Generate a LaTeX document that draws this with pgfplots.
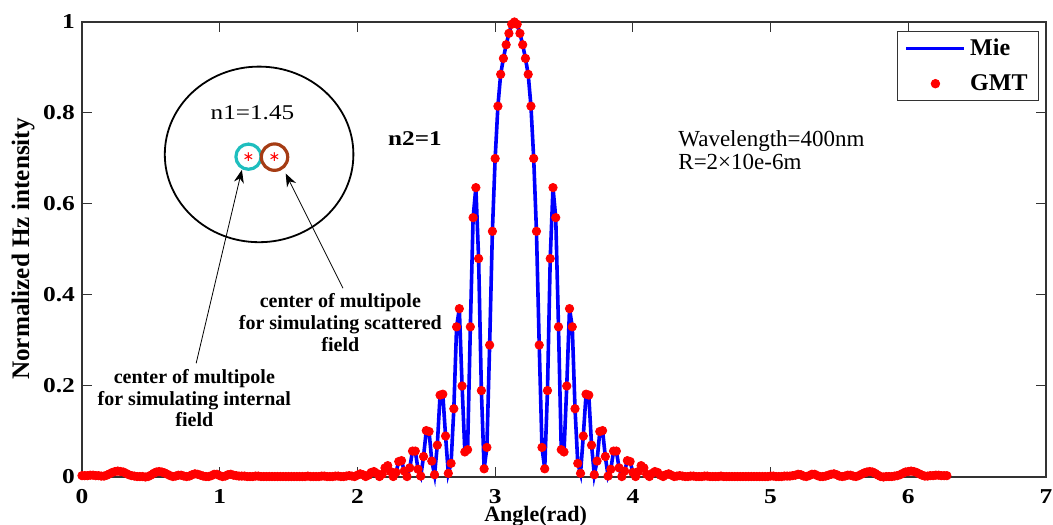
\documentclass[border=0pt]{standalone}
\usepackage{pgfplots}
\pgfplotsset{compat=1.18}
\usepackage{pgfplotstable}
\usetikzlibrary{arrows.meta}
\usepackage{fontspec}
\setmainfont{Liberation Serif}
\newfontfamily\widefont{Liberation Serif}[FakeStretch=1.2]
\newfontfamily\symfont{DejaVu Sans}
\definecolor{miblue}{RGB}{0,0,255}
\definecolor{gmtred}{RGB}{255,0,0}
\definecolor{ringcyan}{RGB}{30,190,190}
\definecolor{ringbrown}{RGB}{165,60,20}
\pgfplotsset{
  mieleg/.style={legend image code/.code={\draw[##1] (0pt,0pt) -- (29pt,0pt);}},
  gmtleg/.style={legend image code/.code={\path[draw=none,fill=none] (0pt,0pt) -- (29pt,0pt); \draw[##1, only marks] plot coordinates {(14.5pt,0pt)};}},
}

\pgfplotstableread{
x y
0.00 0.003
0.02 0.003
0.04 0.003
0.06 0.004
0.08 0.004
0.10 0.003
0.12 0.003
0.14 0.002
0.16 0.002
0.18 0.004
0.20 0.007
0.22 0.010
0.24 0.012
0.26 0.013
0.28 0.012
0.30 0.011
0.32 0.008
0.34 0.005
0.36 0.003
0.38 0.002
0.40 0.001
0.42 0.001
0.44 0.001
0.46 0.000
0.48 0.001
0.50 0.004
0.52 0.008
0.54 0.011
0.56 0.012
0.58 0.011
0.60 0.009
0.62 0.006
0.64 0.003
0.66 0.001
0.68 0.002
0.70 0.004
0.72 0.004
0.74 0.002
0.76 0.001
0.78 0.002
0.80 0.005
0.82 0.007
0.84 0.006
0.86 0.004
0.88 0.002
0.90 0.001
0.92 0.001
0.94 0.003
0.96 0.006
0.98 0.006
1.00 0.003
1.02 0.001
1.04 0.002
1.06 0.005
1.08 0.006
1.10 0.004
1.12 0.003
1.14 0.002
1.16 0.002
1.18 0.002
1.20 0.001
1.22 0.001
1.24 0.001
1.26 0.002
1.28 0.002
1.30 0.001
1.32 0.001
1.34 0.001
1.36 0.001
1.38 0.001
1.40 0.001
1.42 0.001
1.44 0.001
1.46 0.001
1.48 0.001
1.50 0.001
1.52 0.001
1.54 0.001
1.56 0.001
1.58 0.001
1.60 0.001
1.62 0.001
1.64 0.002
1.66 0.001
1.68 0.001
1.70 0.001
1.72 0.001
1.74 0.002
1.76 0.002
1.78 0.001
1.80 0.001
1.82 0.001
1.84 0.002
1.86 0.002
1.88 0.001
1.90 0.001
1.92 0.002
1.94 0.003
1.96 0.002
1.98 0.001
2.00 0.004
2.02 0.007
2.04 0.005
2.06 0.001
2.08 0.004
2.10 0.010
2.12 0.012
2.14 0.008
2.16 0.001
2.18 0.006
2.20 0.020
2.22 0.025
2.24 0.012
2.26 0.001
2.28 0.010
2.30 0.034
2.32 0.036
2.34 0.013
2.36 0.001
2.38 0.020
2.40 0.057
2.42 0.057
2.44 0.017
2.46 0.002
2.48 0.045
2.50 0.102
2.52 0.100
2.54 0.035
2.56 0.005
2.58 0.070
2.60 0.180
2.62 0.182
2.64 0.090
2.66 0.008
2.68 0.030
2.70 0.150
2.72 0.330
2.74 0.370
2.76 0.200
2.78 0.055
2.80 0.060
2.82 0.330
2.84 0.570
2.86 0.636
2.88 0.480
2.90 0.190
2.92 0.018
2.94 0.065
2.96 0.290
2.98 0.540
3.00 0.700
3.02 0.815
3.04 0.885
3.06 0.920
3.08 0.950
3.10 0.975
3.12 0.995
3.14 1.000
3.16 0.995
3.18 0.975
3.20 0.950
3.22 0.920
3.24 0.885
3.26 0.815
3.28 0.700
3.30 0.540
3.32 0.290
3.34 0.065
3.36 0.018
3.38 0.190
3.40 0.480
3.42 0.636
3.44 0.570
3.46 0.330
3.48 0.060
3.50 0.055
3.52 0.200
3.54 0.370
3.56 0.330
3.58 0.150
3.60 0.030
3.62 0.008
3.64 0.090
3.66 0.182
3.68 0.180
3.70 0.070
3.72 0.005
3.74 0.035
3.76 0.100
3.78 0.102
3.80 0.045
3.82 0.002
3.84 0.017
3.86 0.057
3.88 0.057
3.90 0.020
3.92 0.001
3.94 0.013
3.96 0.036
3.98 0.034
4.00 0.010
4.02 0.001
4.04 0.012
4.06 0.025
4.08 0.020
4.10 0.006
4.12 0.001
4.14 0.008
4.16 0.012
4.18 0.010
4.20 0.004
4.22 0.001
4.24 0.005
4.26 0.007
4.28 0.004
4.30 0.001
4.32 0.002
4.34 0.003
4.36 0.002
4.38 0.001
4.40 0.001
4.42 0.002
4.44 0.002
4.46 0.001
4.48 0.001
4.50 0.001
4.52 0.002
4.54 0.002
4.56 0.001
4.58 0.001
4.60 0.001
4.62 0.001
4.64 0.002
4.66 0.001
4.68 0.001
4.70 0.001
4.72 0.001
4.74 0.001
4.76 0.001
4.78 0.001
4.80 0.001
4.82 0.001
4.84 0.001
4.86 0.001
4.88 0.001
4.90 0.001
4.92 0.001
4.94 0.001
4.96 0.001
4.98 0.001
5.00 0.002
5.02 0.002
5.04 0.001
5.06 0.001
5.08 0.001
5.10 0.002
5.12 0.002
5.14 0.002
5.16 0.003
5.18 0.004
5.20 0.006
5.22 0.005
5.24 0.002
5.26 0.001
5.28 0.003
5.30 0.006
5.32 0.006
5.34 0.003
5.36 0.001
5.38 0.001
5.40 0.002
5.42 0.004
5.44 0.006
5.46 0.007
5.48 0.005
5.50 0.002
5.52 0.001
5.54 0.002
5.56 0.004
5.58 0.004
5.60 0.002
5.62 0.001
5.64 0.003
5.66 0.006
5.68 0.009
5.70 0.011
5.72 0.012
5.74 0.011
5.76 0.008
5.78 0.004
5.80 0.001
5.82 0.000
5.84 0.001
5.86 0.001
5.88 0.001
5.90 0.002
5.92 0.003
5.94 0.005
5.96 0.008
5.98 0.011
6.00 0.012
6.02 0.013
6.04 0.012
6.06 0.010
6.08 0.007
6.10 0.004
6.12 0.002
6.14 0.002
6.16 0.003
6.18 0.003
6.20 0.004
6.22 0.004
6.24 0.003
6.26 0.003
6.28 0.003
}\datatable

\begin{document}
\begin{tikzpicture}
\begin{axis}[
  name=main,
  scale only axis, width=482pt, height=227.5pt,
  xmin=0, xmax=7, ymin=0, ymax=1,
  clip=false,
  xtick={0,1,2,3,4,5,6,7},
  xticklabels={0,1,2,3,4,5,6,7},
  ytick={0,0.2,0.4,0.6,0.8,1},
  yticklabels={0,0.2,0.4,0.6,0.8,1},
  /pgf/number format/assume math mode=true,
  tick align=inside,
  major tick length=5pt,
  axis line style={black!80, line width=0.6pt},
  every tick/.style={black!80, line width=0.5pt},
  ticklabel style={font=\widefont\bfseries\fontsize{10.6}{12}\selectfont},
  xticklabel style={anchor=base, yshift=-13pt, text depth=0pt, inner ysep=0pt},
  yticklabel style={anchor=east},
  xlabel={Angle(rad)},
  xlabel style={font=\bfseries\fontsize{11}{13}\selectfont, at={(axis description cs:0.4706,0)}, anchor=base, yshift=-22.4pt, text height=0.7em, text depth=0.15em, inner ysep=0pt},
  ylabel={Normalized Hz intensity},
  ylabel style={font=\bfseries\fontsize{12.6}{14}\selectfont, at={(axis description cs:-0.0612,0.501)}, anchor=center, rotate=0},
  legend style={at={(0.9928,0.980)}, anchor=north east, draw=black!80, line width=0.5pt,
    font=\bfseries\fontsize{12}{14}\selectfont, inner xsep=3.5pt, inner ysep=1.5pt, row sep=4pt,
    cells={anchor=west}},
]
\addplot[miblue, line width=1.8pt, line join=miter, mieleg] table[x=x,y=y] {\datatable};
\addlegendentry{Mie}
\addplot[only marks, mark=*, mark size=2.1pt, color=gmtred, fill=gmtred, gmtleg] table[x=x,y=y] {\datatable};
\addlegendentry{GMT}

% inset sketch
\draw[line width=0.9pt, black] (axis cs:1.286,0.709) ellipse [x radius=47.15pt, y radius=43.9pt];
\draw[line width=1.6pt, ringcyan] (axis cs:1.209,0.704) circle [radius=6.3pt];
\draw[line width=1.6pt, ringbrown] (axis cs:1.398,0.703) circle [radius=6.6pt];
\node[text=gmtred, inner sep=0pt, font=\symfont\fontsize{7}{7}\selectfont] at (axis cs:1.209,0.704) {∗};
\node[text=gmtred, inner sep=0pt, font=\symfont\fontsize{7}{7}\selectfont] at (axis cs:1.398,0.703) {∗};
\node[font=\widefont\fontsize{10.5}{12}\selectfont, inner sep=0pt] at (axis cs:1.238,0.801) {n1=1.45};
\node[font=\widefont\bfseries\fontsize{10.5}{12}\selectfont, inner sep=0pt] at (axis cs:2.418,0.744) {n2=1};
\node[font=\fontsize{11.5}{13}\selectfont, anchor=base west, inner sep=0pt] at (axis cs:4.328,0.726) {Wavelength=400nm};
\node[font=\fontsize{11.5}{13}\selectfont, anchor=base west, inner sep=0pt] at (axis cs:4.328,0.675) {R=2×10e-6m};
\node[font=\bfseries\fontsize{10}{10.85}\selectfont, align=center, inner sep=0pt] at (axis cs:1.876,0.339)
  {center of multipole\\for simulating scattered\\field};
\node[font=\bfseries\fontsize{10}{10.85}\selectfont, align=center, inner sep=0pt] at (axis cs:0.816,0.173)
  {center of multipole\\for simulating internal\\field};
\draw[-{Stealth[length=6.5pt,width=5pt]}, line width=0.4pt] (axis cs:0.829,0.250) -- (axis cs:1.161,0.675);
\draw[-{Stealth[length=6.5pt,width=5pt]}, line width=0.4pt] (axis cs:1.895,0.415) -- (axis cs:1.479,0.667);
\end{axis}
\pgfresetboundingbox
\path[use as bounding box] ([xshift=-41pt,yshift=-23.5pt]main.south west) rectangle ([xshift=3.5pt,yshift=11pt]main.north east);
\end{tikzpicture}
\end{document}
